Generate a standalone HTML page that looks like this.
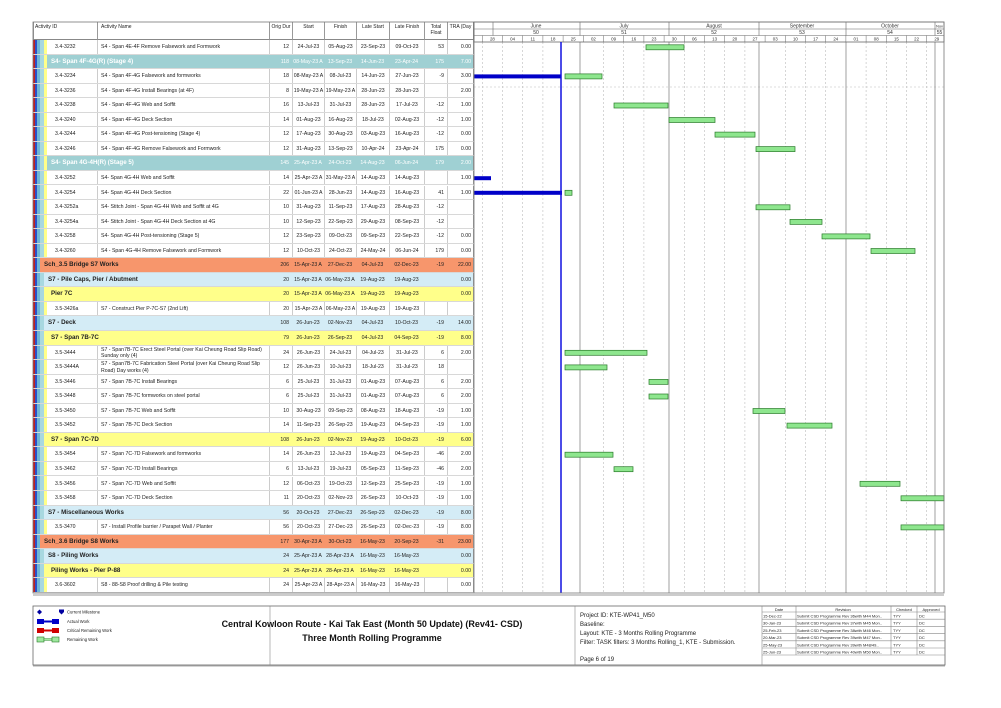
<!DOCTYPE html>
<html><head><meta charset="utf-8"><style>
body{margin:0;width:1001px;height:708px;background:#fff;position:relative;overflow:hidden;font-family:"Liberation Sans",sans-serif;color:#222}
.r{position:absolute;left:33px;width:441px;height:14.55px;box-sizing:border-box;border-bottom:1px solid #d8d8d8;font-size:5.2px;line-height:14px}
.r i{font-style:normal;position:absolute;top:0;height:100%;box-sizing:border-box;white-space:nowrap;overflow:hidden}
.c1{left:14px;width:50px;padding-left:8px;background:#fff}
.c2{left:64px;width:172px;padding-left:3px;border-left:1px solid #ccc;background:#fff}
.c3{left:236px;width:23px;text-align:right;padding-right:3px;border-left:1px solid #ccc}
.c4{left:259px;width:32px;text-align:center;border-left:1px solid #ccc}
.c5{left:291px;width:32px;text-align:center;border-left:1px solid #ccc}
.c6{left:323px;width:33px;text-align:center;border-left:1px solid #ccc}
.c7{left:356px;width:35px;text-align:center;border-left:1px solid #ccc}
.c8{left:391px;width:23px;text-align:right;padding-right:3px;border-left:1px solid #ccc}
.c9{left:414px;width:27px;text-align:right;padding-right:2px;border-left:1px solid #ccc;border-right:1px solid #999}
.a .c3,.a .c4,.a .c5,.a .c6,.a .c7,.a .c8,.a .c9{background:#fff}
.g i{border-left:none}
.g .gn{left:0;width:230px;font-weight:bold;font-size:6.2px;padding-left:4px}
.t{background:linear-gradient(90deg,transparent 14px,#9fd0d3 14px);color:#fff}
.o{background:linear-gradient(90deg,transparent 7px,#f7966c 7px)}
.o .gn{left:7px}
.b{background:linear-gradient(90deg,transparent 11px,#d4ecf6 11px)}
.b .gn{left:11px}
.y{background:linear-gradient(90deg,transparent 14px,#ffff8a 14px)}
.y .gn{left:14px}
.t .gn{left:14px}
.two{line-height:6.5px}
.two .c2{padding-top:1px;white-space:normal}
.hd{position:absolute;top:22px;height:18px;font-size:5px;text-align:center;box-sizing:border-box;border-left:1px solid #999;border-bottom:1px solid #888;padding-top:2px;background:#fff;line-height:6px}
</style></head><body>
<!-- left stripes -->
<div style="position:absolute;left:33px;top:40px;width:2px;height:553px;background:#c02020"></div>
<div style="position:absolute;left:35px;top:40px;width:2px;height:553px;background:#2b50c8"></div>
<div style="position:absolute;left:37px;top:40px;width:3px;height:553px;background:#6fb6d6"></div>
<div style="position:absolute;left:40px;top:40px;width:4px;height:553px;background:#a8d8e0"></div>
<div style="position:absolute;left:44px;top:40px;width:3px;height:553px;background:#ffff8a"></div>
<!-- header -->
<div class="hd" style="left:33px;width:64px;text-align:left;padding-left:1px">Activity ID</div>
<div class="hd" style="left:97px;width:172px;text-align:left;padding-left:3px">Activity Name</div>
<div class="hd" style="left:269px;width:23px">Orig Dur</div>
<div class="hd" style="left:292px;width:32px">Start</div>
<div class="hd" style="left:324px;width:32px">Finish</div>
<div class="hd" style="left:356px;width:33px">Late Start</div>
<div class="hd" style="left:389px;width:35px">Late Finish</div>
<div class="hd" style="left:424px;width:23px">Total Float</div>
<div class="hd" style="left:447px;width:27px;border-right:1px solid #888">TRA (Day</div>

<div class="r a" style="top:40px"><i class="c1">3.4-3232</i><i class="c2">S4 - Span 4E-4F Remove Falsework and Formwork</i><i class="c3">12</i><i class="c4">24-Jul-23</i><i class="c5">05-Aug-23</i><i class="c6">23-Sep-23</i><i class="c7">09-Oct-23</i><i class="c8">53</i><i class="c9">0.00</i></div>
<div class="r g t" style="top:54.55px"><i class="gn">S4- Span 4F-4G(R) (Stage 4)</i><i class="c3">118</i><i class="c4">08-May-23 A</i><i class="c5">13-Sep-23</i><i class="c6">14-Jun-23</i><i class="c7">23-Apr-24</i><i class="c8">175</i><i class="c9">7.00</i></div>
<div class="r a" style="top:69.1px"><i class="c1">3.4-3234</i><i class="c2">S4 - Span 4F-4G Falsework and formworks</i><i class="c3">18</i><i class="c4">08-May-23 A</i><i class="c5">08-Jul-23</i><i class="c6">14-Jun-23</i><i class="c7">27-Jun-23</i><i class="c8">-9</i><i class="c9">3.00</i></div>
<div class="r a" style="top:83.65px"><i class="c1">3.4-3236</i><i class="c2">S4 - Span 4F-4G Install Bearings (at 4F)</i><i class="c3">8</i><i class="c4">19-May-23 A</i><i class="c5">19-May-23 A</i><i class="c6">28-Jun-23</i><i class="c7">28-Jun-23</i><i class="c8"></i><i class="c9">2.00</i></div>
<div class="r a" style="top:98.2px"><i class="c1">3.4-3238</i><i class="c2">S4 - Span 4F-4G Web and Soffit</i><i class="c3">16</i><i class="c4">13-Jul-23</i><i class="c5">31-Jul-23</i><i class="c6">28-Jun-23</i><i class="c7">17-Jul-23</i><i class="c8">-12</i><i class="c9">1.00</i></div>
<div class="r a" style="top:112.75px"><i class="c1">3.4-3240</i><i class="c2">S4 - Span 4F-4G Deck Section</i><i class="c3">14</i><i class="c4">01-Aug-23</i><i class="c5">16-Aug-23</i><i class="c6">18-Jul-23</i><i class="c7">02-Aug-23</i><i class="c8">-12</i><i class="c9">1.00</i></div>
<div class="r a" style="top:127.3px"><i class="c1">3.4-3244</i><i class="c2">S4 - Span 4F-4G Post-tensioning (Stage 4)</i><i class="c3">12</i><i class="c4">17-Aug-23</i><i class="c5">30-Aug-23</i><i class="c6">03-Aug-23</i><i class="c7">16-Aug-23</i><i class="c8">-12</i><i class="c9">0.00</i></div>
<div class="r a" style="top:141.85px"><i class="c1">3.4-3246</i><i class="c2">S4 - Span 4F-4G Remove Falsework and Formwork</i><i class="c3">12</i><i class="c4">31-Aug-23</i><i class="c5">13-Sep-23</i><i class="c6">10-Apr-24</i><i class="c7">23-Apr-24</i><i class="c8">175</i><i class="c9">0.00</i></div>
<div class="r g t" style="top:156.4px"><i class="gn">S4- Span 4G-4H(R) (Stage 5)</i><i class="c3">145</i><i class="c4">25-Apr-23 A</i><i class="c5">24-Oct-23</i><i class="c6">14-Aug-23</i><i class="c7">06-Jun-24</i><i class="c8">179</i><i class="c9">2.00</i></div>
<div class="r a" style="top:170.95px"><i class="c1">3.4-3252</i><i class="c2">S4- Span 4G-4H Web and Soffit</i><i class="c3">14</i><i class="c4">25-Apr-23 A</i><i class="c5">31-May-23 A</i><i class="c6">14-Aug-23</i><i class="c7">14-Aug-23</i><i class="c8"></i><i class="c9">1.00</i></div>
<div class="r a" style="top:185.5px"><i class="c1">3.4-3254</i><i class="c2">S4- Span 4G-4H Deck Section</i><i class="c3">22</i><i class="c4">01-Jun-23 A</i><i class="c5">28-Jun-23</i><i class="c6">14-Aug-23</i><i class="c7">16-Aug-23</i><i class="c8">41</i><i class="c9">1.00</i></div>
<div class="r a" style="top:200.05px"><i class="c1">3.4-3252a</i><i class="c2">S4- Stitch Joint - Span 4G-4H Web and Soffit at 4G</i><i class="c3">10</i><i class="c4">31-Aug-23</i><i class="c5">11-Sep-23</i><i class="c6">17-Aug-23</i><i class="c7">28-Aug-23</i><i class="c8">-12</i><i class="c9"></i></div>
<div class="r a" style="top:214.6px"><i class="c1">3.4-3254a</i><i class="c2">S4- Stitch Joint - Span 4G-4H Deck Section at 4G</i><i class="c3">10</i><i class="c4">12-Sep-23</i><i class="c5">22-Sep-23</i><i class="c6">29-Aug-23</i><i class="c7">08-Sep-23</i><i class="c8">-12</i><i class="c9"></i></div>
<div class="r a" style="top:229.15px"><i class="c1">3.4-3258</i><i class="c2">S4- Span 4G-4H Post-tensioning (Stage 5)</i><i class="c3">12</i><i class="c4">23-Sep-23</i><i class="c5">09-Oct-23</i><i class="c6">09-Sep-23</i><i class="c7">22-Sep-23</i><i class="c8">-12</i><i class="c9">0.00</i></div>
<div class="r a" style="top:243.7px"><i class="c1">3.4-3260</i><i class="c2">S4 - Span 4G-4H Remove Falsework and Formwork</i><i class="c3">12</i><i class="c4">10-Oct-23</i><i class="c5">24-Oct-23</i><i class="c6">24-May-24</i><i class="c7">06-Jun-24</i><i class="c8">179</i><i class="c9">0.00</i></div>
<div class="r g o" style="top:258.25px"><i class="gn">Sch_3.5 Bridge S7 Works</i><i class="c3">206</i><i class="c4">15-Apr-23 A</i><i class="c5">27-Dec-23</i><i class="c6">04-Jul-23</i><i class="c7">02-Dec-23</i><i class="c8">-19</i><i class="c9">22.00</i></div>
<div class="r g b" style="top:272.8px"><i class="gn">S7 - Pile Caps, Pier / Abutment</i><i class="c3">20</i><i class="c4">15-Apr-23 A</i><i class="c5">06-May-23 A</i><i class="c6">19-Aug-23</i><i class="c7">19-Aug-23</i><i class="c8"></i><i class="c9">0.00</i></div>
<div class="r g y" style="top:287.35px"><i class="gn">Pier 7C</i><i class="c3">20</i><i class="c4">15-Apr-23 A</i><i class="c5">06-May-23 A</i><i class="c6">19-Aug-23</i><i class="c7">19-Aug-23</i><i class="c8"></i><i class="c9">0.00</i></div>
<div class="r a" style="top:301.9px"><i class="c1">3.5-3426a</i><i class="c2">S7 - Construct Pier P-7C-S7 (2nd Lift)</i><i class="c3">20</i><i class="c4">15-Apr-23 A</i><i class="c5">06-May-23 A</i><i class="c6">19-Aug-23</i><i class="c7">19-Aug-23</i><i class="c8"></i><i class="c9"></i></div>
<div class="r g b" style="top:316.45px"><i class="gn">S7 - Deck</i><i class="c3">108</i><i class="c4">26-Jun-23</i><i class="c5">02-Nov-23</i><i class="c6">04-Jul-23</i><i class="c7">10-Oct-23</i><i class="c8">-19</i><i class="c9">14.00</i></div>
<div class="r g y" style="top:331px"><i class="gn">S7 - Span 7B-7C</i><i class="c3">79</i><i class="c4">26-Jun-23</i><i class="c5">26-Sep-23</i><i class="c6">04-Jul-23</i><i class="c7">04-Sep-23</i><i class="c8">-19</i><i class="c9">8.00</i></div>
<div class="r a two" style="top:345.55px"><i class="c1" style="line-height:14px">3.5-3444</i><i class="c2">S7 - Span7B-7C Erect Steel Portal (over Kai Cheung Road Slip Road) Sunday only (4)</i><i class="c3" style="line-height:14px">24</i><i class="c4" style="line-height:14px">26-Jun-23</i><i class="c5" style="line-height:14px">24-Jul-23</i><i class="c6" style="line-height:14px">04-Jul-23</i><i class="c7" style="line-height:14px">31-Jul-23</i><i class="c8" style="line-height:14px">6</i><i class="c9" style="line-height:14px">2.00</i></div>
<div class="r a two" style="top:360.1px"><i class="c1" style="line-height:14px">3.5-3444A</i><i class="c2">S7 - Span7B-7C Fabrication Steel Portal (over Kai Cheung Road Slip Road) Day works (4)</i><i class="c3" style="line-height:14px">12</i><i class="c4" style="line-height:14px">26-Jun-23</i><i class="c5" style="line-height:14px">10-Jul-23</i><i class="c6" style="line-height:14px">18-Jul-23</i><i class="c7" style="line-height:14px">31-Jul-23</i><i class="c8" style="line-height:14px">18</i><i class="c9"></i></div>
<div class="r a" style="top:374.65px"><i class="c1">3.5-3446</i><i class="c2">S7 - Span 7B-7C Install Bearings</i><i class="c3">6</i><i class="c4">25-Jul-23</i><i class="c5">31-Jul-23</i><i class="c6">01-Aug-23</i><i class="c7">07-Aug-23</i><i class="c8">6</i><i class="c9">2.00</i></div>
<div class="r a" style="top:389.2px"><i class="c1">3.5-3448</i><i class="c2">S7 - Span 7B-7C formworks on steel portal</i><i class="c3">6</i><i class="c4">25-Jul-23</i><i class="c5">31-Jul-23</i><i class="c6">01-Aug-23</i><i class="c7">07-Aug-23</i><i class="c8">6</i><i class="c9">2.00</i></div>
<div class="r a" style="top:403.75px"><i class="c1">3.5-3450</i><i class="c2">S7 - Span 7B-7C Web and Soffit</i><i class="c3">10</i><i class="c4">30-Aug-23</i><i class="c5">09-Sep-23</i><i class="c6">08-Aug-23</i><i class="c7">18-Aug-23</i><i class="c8">-19</i><i class="c9">1.00</i></div>
<div class="r a" style="top:418.3px"><i class="c1">3.5-3452</i><i class="c2">S7 - Span 7B-7C Deck Section</i><i class="c3">14</i><i class="c4">11-Sep-23</i><i class="c5">26-Sep-23</i><i class="c6">19-Aug-23</i><i class="c7">04-Sep-23</i><i class="c8">-19</i><i class="c9">1.00</i></div>
<div class="r g y" style="top:432.85px"><i class="gn">S7 - Span 7C-7D</i><i class="c3">108</i><i class="c4">26-Jun-23</i><i class="c5">02-Nov-23</i><i class="c6">19-Aug-23</i><i class="c7">10-Oct-23</i><i class="c8">-19</i><i class="c9">6.00</i></div>
<div class="r a" style="top:447.4px"><i class="c1">3.5-3454</i><i class="c2">S7 - Span 7C-7D Falsework and formworks</i><i class="c3">14</i><i class="c4">26-Jun-23</i><i class="c5">12-Jul-23</i><i class="c6">19-Aug-23</i><i class="c7">04-Sep-23</i><i class="c8">-46</i><i class="c9">2.00</i></div>
<div class="r a" style="top:461.95px"><i class="c1">3.5-3462</i><i class="c2">S7 - Span 7C-7D Install Bearings</i><i class="c3">6</i><i class="c4">13-Jul-23</i><i class="c5">19-Jul-23</i><i class="c6">05-Sep-23</i><i class="c7">11-Sep-23</i><i class="c8">-46</i><i class="c9">2.00</i></div>
<div class="r a" style="top:476.5px"><i class="c1">3.5-3456</i><i class="c2">S7 - Span 7C-7D Web and Soffit</i><i class="c3">12</i><i class="c4">06-Oct-23</i><i class="c5">19-Oct-23</i><i class="c6">12-Sep-23</i><i class="c7">25-Sep-23</i><i class="c8">-19</i><i class="c9">1.00</i></div>
<div class="r a" style="top:491.05px"><i class="c1">3.5-3458</i><i class="c2">S7 - Span 7C-7D Deck Section</i><i class="c3">11</i><i class="c4">20-Oct-23</i><i class="c5">02-Nov-23</i><i class="c6">26-Sep-23</i><i class="c7">10-Oct-23</i><i class="c8">-19</i><i class="c9">1.00</i></div>
<div class="r g b" style="top:505.6px"><i class="gn">S7 - Miscellaneous Works</i><i class="c3">56</i><i class="c4">20-Oct-23</i><i class="c5">27-Dec-23</i><i class="c6">26-Sep-23</i><i class="c7">02-Dec-23</i><i class="c8">-19</i><i class="c9">8.00</i></div>
<div class="r a" style="top:520.15px"><i class="c1">3.5-3470</i><i class="c2">S7 - Install Profile barrier / Parapet Wall / Planter</i><i class="c3">56</i><i class="c4">20-Oct-23</i><i class="c5">27-Dec-23</i><i class="c6">26-Sep-23</i><i class="c7">02-Dec-23</i><i class="c8">-19</i><i class="c9">8.00</i></div>
<div class="r g o" style="top:534.7px"><i class="gn">Sch_3.6 Bridge S8 Works</i><i class="c3">177</i><i class="c4">30-Apr-23 A</i><i class="c5">30-Oct-23</i><i class="c6">16-May-23</i><i class="c7">20-Sep-23</i><i class="c8">-31</i><i class="c9">23.00</i></div>
<div class="r g b" style="top:549.25px"><i class="gn">S8 - Piling Works</i><i class="c3">24</i><i class="c4">25-Apr-23 A</i><i class="c5">28-Apr-23 A</i><i class="c6">16-May-23</i><i class="c7">16-May-23</i><i class="c8"></i><i class="c9">0.00</i></div>
<div class="r g y" style="top:563.8px"><i class="gn">Piling Works - Pier P-88</i><i class="c3">24</i><i class="c4">25-Apr-23 A</i><i class="c5">28-Apr-23 A</i><i class="c6">16-May-23</i><i class="c7">16-May-23</i><i class="c8"></i><i class="c9">0.00</i></div>
<div class="r a" style="top:578.35px"><i class="c1">3.6-3602</i><i class="c2">S8 - 88-S8 Proof drilling &amp; Pile testing</i><i class="c3">24</i><i class="c4">25-Apr-23 A</i><i class="c5">28-Apr-23 A</i><i class="c6">16-May-23</i><i class="c7">16-May-23</i><i class="c8"></i><i class="c9">0.00</i></div>

<!-- gantt -->
<svg style="position:absolute;left:0;top:0" width="1001" height="708" font-family="Liberation Sans, sans-serif">
<g stroke="#bbb" stroke-width="0.6" stroke-dasharray="2,2">
<line x1="482.3" y1="42" x2="482.3" y2="593"/><line x1="502.5" y1="42" x2="502.5" y2="593"/><line x1="522.7" y1="42" x2="522.7" y2="593"/><line x1="542.9" y1="42" x2="542.9" y2="593"/><line x1="603.5" y1="42" x2="603.5" y2="593"/><line x1="623.7" y1="42" x2="623.7" y2="593"/><line x1="643.9" y1="42" x2="643.9" y2="593"/><line x1="684.3" y1="42" x2="684.3" y2="593"/><line x1="704.5" y1="42" x2="704.5" y2="593"/><line x1="724.7" y1="42" x2="724.7" y2="593"/><line x1="744.9" y1="42" x2="744.9" y2="593"/><line x1="785.3" y1="42" x2="785.3" y2="593"/><line x1="805.5" y1="42" x2="805.5" y2="593"/><line x1="825.7" y1="42" x2="825.7" y2="593"/><line x1="866.1" y1="42" x2="866.1" y2="593"/><line x1="886.3" y1="42" x2="886.3" y2="593"/><line x1="906.5" y1="42" x2="906.5" y2="593"/><line x1="926.7" y1="42" x2="926.7" y2="593"/>
<line x1="474" y1="87" x2="944" y2="87"/>
</g>
<g stroke="#888" stroke-width="0.8">
<line x1="580" y1="42" x2="580" y2="593"/><line x1="669" y1="42" x2="669" y2="593"/><line x1="759" y1="42" x2="759" y2="593"/><line x1="846" y1="42" x2="846" y2="593"/><line x1="935" y1="42" x2="935" y2="593"/>
</g>
<rect x="474" y="22" width="470" height="20" fill="none" stroke="#666" stroke-width="0.8"/>
<g stroke="#666" stroke-width="0.6">
<line x1="474" y1="29" x2="944" y2="29"/><line x1="474" y1="35.5" x2="944" y2="35.5"/>
<line x1="493" y1="22" x2="493" y2="35.5"/><line x1="580" y1="22" x2="580" y2="35.5"/><line x1="669" y1="22" x2="669" y2="35.5"/><line x1="759" y1="22" x2="759" y2="35.5"/><line x1="846" y1="22" x2="846" y2="35.5"/><line x1="935" y1="22" x2="935" y2="35.5"/>
</g>
<g stroke="#666" stroke-width="0.5">
<line x1="482.3" y1="35.5" x2="482.3" y2="42"/><line x1="502.5" y1="35.5" x2="502.5" y2="42"/><line x1="522.7" y1="35.5" x2="522.7" y2="42"/><line x1="542.9" y1="35.5" x2="542.9" y2="42"/><line x1="563.1" y1="35.5" x2="563.1" y2="42"/><line x1="583.3" y1="35.5" x2="583.3" y2="42"/><line x1="603.5" y1="35.5" x2="603.5" y2="42"/><line x1="623.7" y1="35.5" x2="623.7" y2="42"/><line x1="643.9" y1="35.5" x2="643.9" y2="42"/><line x1="664.1" y1="35.5" x2="664.1" y2="42"/><line x1="684.3" y1="35.5" x2="684.3" y2="42"/><line x1="704.5" y1="35.5" x2="704.5" y2="42"/><line x1="724.7" y1="35.5" x2="724.7" y2="42"/><line x1="744.9" y1="35.5" x2="744.9" y2="42"/><line x1="765.1" y1="35.5" x2="765.1" y2="42"/><line x1="785.3" y1="35.5" x2="785.3" y2="42"/><line x1="805.5" y1="35.5" x2="805.5" y2="42"/><line x1="825.7" y1="35.5" x2="825.7" y2="42"/><line x1="845.9" y1="35.5" x2="845.9" y2="42"/><line x1="866.1" y1="35.5" x2="866.1" y2="42"/><line x1="886.3" y1="35.5" x2="886.3" y2="42"/><line x1="906.5" y1="35.5" x2="906.5" y2="42"/><line x1="926.7" y1="35.5" x2="926.7" y2="42"/>
</g>
<g font-size="5" fill="#333" text-anchor="middle">
<text x="536" y="27.5">June</text><text x="624" y="27.5">July</text><text x="714" y="27.5">August</text><text x="802" y="27.5">September</text><text x="890" y="27.5">October</text><text x="939.5" y="27.5" font-size="4">Nov</text>
<text x="536" y="34">50</text><text x="624" y="34">51</text><text x="714" y="34">52</text><text x="802" y="34">53</text><text x="890" y="34">54</text><text x="939.5" y="34">55</text>
<g font-size="4.4"><text x="492.4" y="40.5">28</text><text x="512.6" y="40.5">04</text><text x="532.8" y="40.5">11</text><text x="553" y="40.5">18</text><text x="573.2" y="40.5">25</text><text x="593.4" y="40.5">02</text><text x="613.6" y="40.5">09</text><text x="633.8" y="40.5">16</text><text x="654" y="40.5">23</text><text x="674.2" y="40.5">30</text><text x="694.4" y="40.5">06</text><text x="714.6" y="40.5">13</text><text x="734.8" y="40.5">20</text><text x="755" y="40.5">27</text><text x="775.2" y="40.5">03</text><text x="795.4" y="40.5">10</text><text x="815.6" y="40.5">17</text><text x="835.8" y="40.5">24</text><text x="856" y="40.5">01</text><text x="876.2" y="40.5">08</text><text x="896.4" y="40.5">15</text><text x="916.6" y="40.5">22</text><text x="936.8" y="40.5">29</text></g>
</g>
<g fill="#0000c8">
<rect x="474" y="74.4" width="87" height="4"/><rect x="474" y="176.2" width="17" height="4"/><rect x="474" y="190.8" width="88" height="4"/>
</g>
<g fill="#8ee68e" stroke="#2a7a2a" stroke-width="0.7">
<rect x="646" y="44.8" width="38" height="5"/>
<rect x="565" y="73.9" width="37" height="5"/>
<rect x="614" y="103" width="54" height="5"/>
<rect x="669" y="117.5" width="46" height="5"/>
<rect x="715" y="132.1" width="40" height="5"/>
<rect x="756" y="146.6" width="39" height="5"/>
<rect x="565" y="190.3" width="7" height="5"/>
<rect x="756" y="204.8" width="34" height="5"/>
<rect x="790" y="219.4" width="32" height="5"/>
<rect x="822" y="233.9" width="48" height="5"/>
<rect x="871" y="248.5" width="44" height="5"/>
<rect x="565" y="350.3" width="82" height="5"/>
<rect x="565" y="364.9" width="42" height="5"/>
<rect x="649" y="379.4" width="19" height="5"/>
<rect x="649" y="394" width="19" height="5"/>
<rect x="753" y="408.5" width="32" height="5"/>
<rect x="787" y="423.1" width="45" height="5"/>
<rect x="565" y="452.2" width="48" height="5"/>
<rect x="614" y="466.7" width="19" height="5"/>
<rect x="860" y="481.3" width="40" height="5"/>
<rect x="901" y="495.8" width="43" height="5"/>
<rect x="901" y="524.9" width="43" height="5"/>
</g>
<line x1="561" y1="42" x2="561" y2="593" stroke="#1010e0" stroke-width="1.5"/>
<rect x="33" y="22" width="911" height="571" fill="none" stroke="#777" stroke-width="0.8"/>
<line x1="474" y1="22" x2="474" y2="593" stroke="#777" stroke-width="0.8"/>
<line x1="33" y1="595" x2="944" y2="595" stroke="#777" stroke-width="0.8"/>
<rect x="33" y="606" width="912" height="59" fill="none" stroke="#666" stroke-width="0.8"/>
<line x1="33" y1="666" x2="945" y2="666" stroke="#aaa" stroke-width="1"/>
<g stroke="#888" stroke-width="0.6">
<line x1="270" y1="606" x2="270" y2="665"/><line x1="575" y1="606" x2="575" y2="665"/><line x1="762" y1="606" x2="762" y2="665"/>
<line x1="796" y1="606" x2="796" y2="655"/><line x1="891" y1="606" x2="891" y2="655"/><line x1="917" y1="606" x2="917" y2="655"/>
<line x1="762" y1="612" x2="945" y2="612"/><line x1="762" y1="619.2" x2="945" y2="619.2"/><line x1="762" y1="626.4" x2="945" y2="626.4"/><line x1="762" y1="633.6" x2="945" y2="633.6"/><line x1="762" y1="640.8" x2="945" y2="640.8"/><line x1="762" y1="648" x2="945" y2="648"/><line x1="762" y1="655" x2="945" y2="655"/>
</g>
<g font-size="4" fill="#222">
<text x="779" y="611" text-anchor="middle">Date</text><text x="843" y="611" text-anchor="middle">Revision</text><text x="904" y="611" text-anchor="middle">Checked</text><text x="931" y="611" text-anchor="middle">Approved</text>
<text x="763" y="617.5">15-Dec-22</text><text x="797" y="617.5">Submit CSD Programme Rev 36with M44 Mon..</text><text x="893" y="617.5">TYY</text><text x="919" y="617.5">DC</text>
<text x="763" y="624.7">30-Jan-23</text><text x="797" y="624.7">Submit CSD Programme Rev 37with M45 Mon..</text><text x="893" y="624.7">TYY</text><text x="919" y="624.7">DC</text>
<text x="763" y="631.9">25-Feb-23</text><text x="797" y="631.9">Submit CSD Programme Rev 38with M46 Mon..</text><text x="893" y="631.9">TYY</text><text x="919" y="631.9">DC</text>
<text x="763" y="639.1">20-Mar-23</text><text x="797" y="639.1">Submit CSD Programme Rev 39with M47 Mon..</text><text x="893" y="639.1">TYY</text><text x="919" y="639.1">DC</text>
<text x="763" y="646.3">25-May-23</text><text x="797" y="646.3">Submit CSD Programme Rev 39with M48/49..</text><text x="893" y="646.3">TYY</text><text x="919" y="646.3">DC</text>
<text x="763" y="653.5">25-Jun-23</text><text x="797" y="653.5">Submit CSD Programme Rev 40with M50 Mon..</text><text x="893" y="653.5">TYY</text><text x="919" y="653.5">DC</text>
</g>
<g font-size="6" fill="#222">
<text x="580" y="617">Project ID: KTE-WP41_M50</text>
<text x="580" y="626">Baseline:</text>
<text x="580" y="635">Layout: KTE - 3 Months Rolling Programme</text>
<text x="580" y="644">Filter: TASK filters: 3 Months Rolling_1, KTE - Submission.</text>
<text x="580" y="661">Page 6 of 19</text>
</g>
<g font-size="9" font-weight="bold" fill="#111" text-anchor="middle">
<text x="372" y="627">Central Kowloon Route - Kai Tak East (Month 50 Update) (Rev41- CSD)</text>
<text x="372" y="641">Three Month Rolling Programme</text>
</g>
<path d="M37 612 l2.5 -2.5 l2.5 2.5 l-2.5 2.5z" fill="#0000a0"/>
<path d="M59 609.5 h5 v2.5 l-2.5 2.5 l-2.5 -2.5z" fill="#0000a0"/>
<rect x="37" y="619" width="7" height="5" fill="#0000c8"/><rect x="44" y="620.5" width="8" height="2" fill="#0000c8"/><rect x="52" y="619" width="7" height="5" fill="#0000c8"/>
<rect x="37" y="628" width="7" height="5" fill="#d00000"/><rect x="44" y="629.5" width="8" height="2" fill="#d00000"/><rect x="52" y="628" width="7" height="5" fill="#d00000"/>
<rect x="37" y="637" width="7" height="5" fill="#9ee89e" stroke="#2a7a2a" stroke-width="0.6"/><rect x="44" y="638.5" width="8" height="2" fill="#9ee89e" stroke="#2a7a2a" stroke-width="0.4"/><rect x="52" y="637" width="7" height="5" fill="#9ee89e" stroke="#2a7a2a" stroke-width="0.6"/>
<g font-size="4.2" fill="#222">
<text x="67" y="613.5">Current Milestone</text><text x="67" y="623">Actual Work</text><text x="67" y="632">Critical Remaining Work</text><text x="67" y="641">Remaining Work</text>
</g>
</svg>
</body></html>
